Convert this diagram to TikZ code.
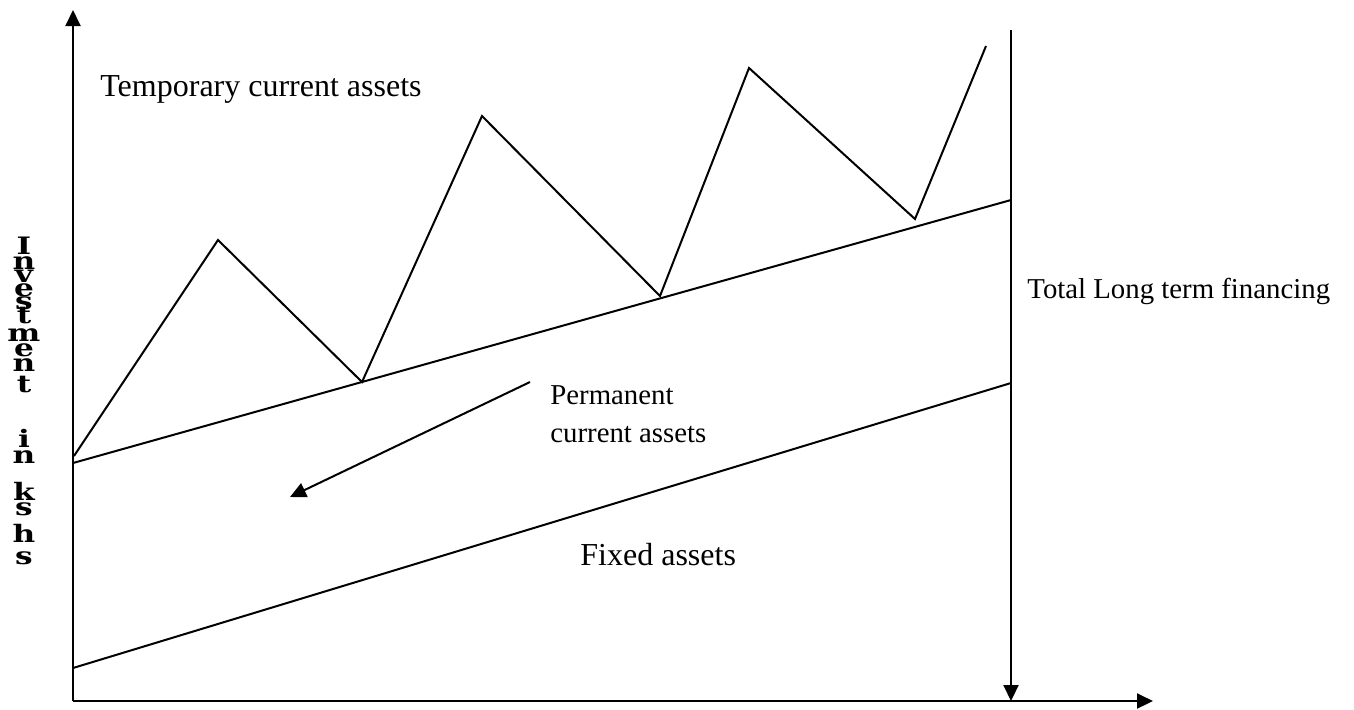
\documentclass[tikz,border=0pt]{standalone}
\usepackage{fontspec}
\setmainfont{Liberation Serif}
\newfontfamily\labelfont[FakeStretch=1.3]{DejaVu Serif}
\usetikzlibrary{arrows.meta}
\begin{document}
\begin{tikzpicture}[x=0.5pt,y=-0.5pt,
  line/.style={line width=1pt,line join=miter},
  arr/.style={line/.try,-{Triangle[width=7.5pt,length=8pt]}},
  lbl/.style={anchor=base west,inner sep=0pt,font=\fontsize{16}{18.4}\selectfont},
  slbl/.style={lbl,font=\fontsize{14.4}{19}\selectfont},
  vl/.style={anchor=base,inner sep=0pt,font=\labelfont\bfseries\fontsize{12}{13}\selectfont}]
\useasboundingbox (0,0) rectangle (1354,709);
% axes
\coordinate (O) at (73,701);
\coordinate (Ytop) at (73,10);
\coordinate (Xend) at (1153,701);
\draw[line,arr] (O) -- (Ytop);
\draw[line,arr] (O) -- (Xend);
% total long term financing
\coordinate (Ttop) at (1011,30);
\coordinate (Tbot) at (1011,701);
\draw[line,arr] (Ttop) -- (Tbot);
% fixed assets line
\coordinate (F0) at (73,668);
\coordinate (F1) at (1011,383);
\draw[line] (F0) -- (F1);
% permanent current assets line
\coordinate (P0) at (73,463);
\coordinate (P1) at (1011,200);
\draw[line] (P0) -- (P1);
% temporary zigzag
\coordinate (z0) at (74,456);
\coordinate (z1) at (218,240);
\coordinate (z2) at (362,382);
\coordinate (z3) at (482,116);
\coordinate (z4) at (660,296);
\coordinate (z5) at (749,68);
\coordinate (z6) at (915,219);
\coordinate (z7) at (986,46);
\draw[line] (z0) -- (z1) -- (z2) -- (z3) -- (z4) -- (z5) -- (z6) -- (z7);
% pointer arrow
\coordinate (a0) at (530,382);
\coordinate (a1) at (290,497);
\draw[line,arr] (a0) -- (a1);
% labels
\node[lbl] (tca) at (100,96) {Temporary current assets};
\node[slbl] (tlf) at (1027,298) {Total Long term financing};
\node[slbl,align=left] (pca) at (550,442) {Permanent\\current assets};
\node[lbl] (fa) at (580,565) {Fixed assets};
% vertical axis label, stacked letters
\foreach \ch/\yy [count=\k] in {I/254,n/269,v/282,e/296,s/309,t/323,m/341,e/356,n/371,t/392,i/447,n/463,k/500,s/515,h/542,s/564}
  \node[vl] (yl\k) at (24,\yy) {\ch};
\end{tikzpicture}
\end{document}
